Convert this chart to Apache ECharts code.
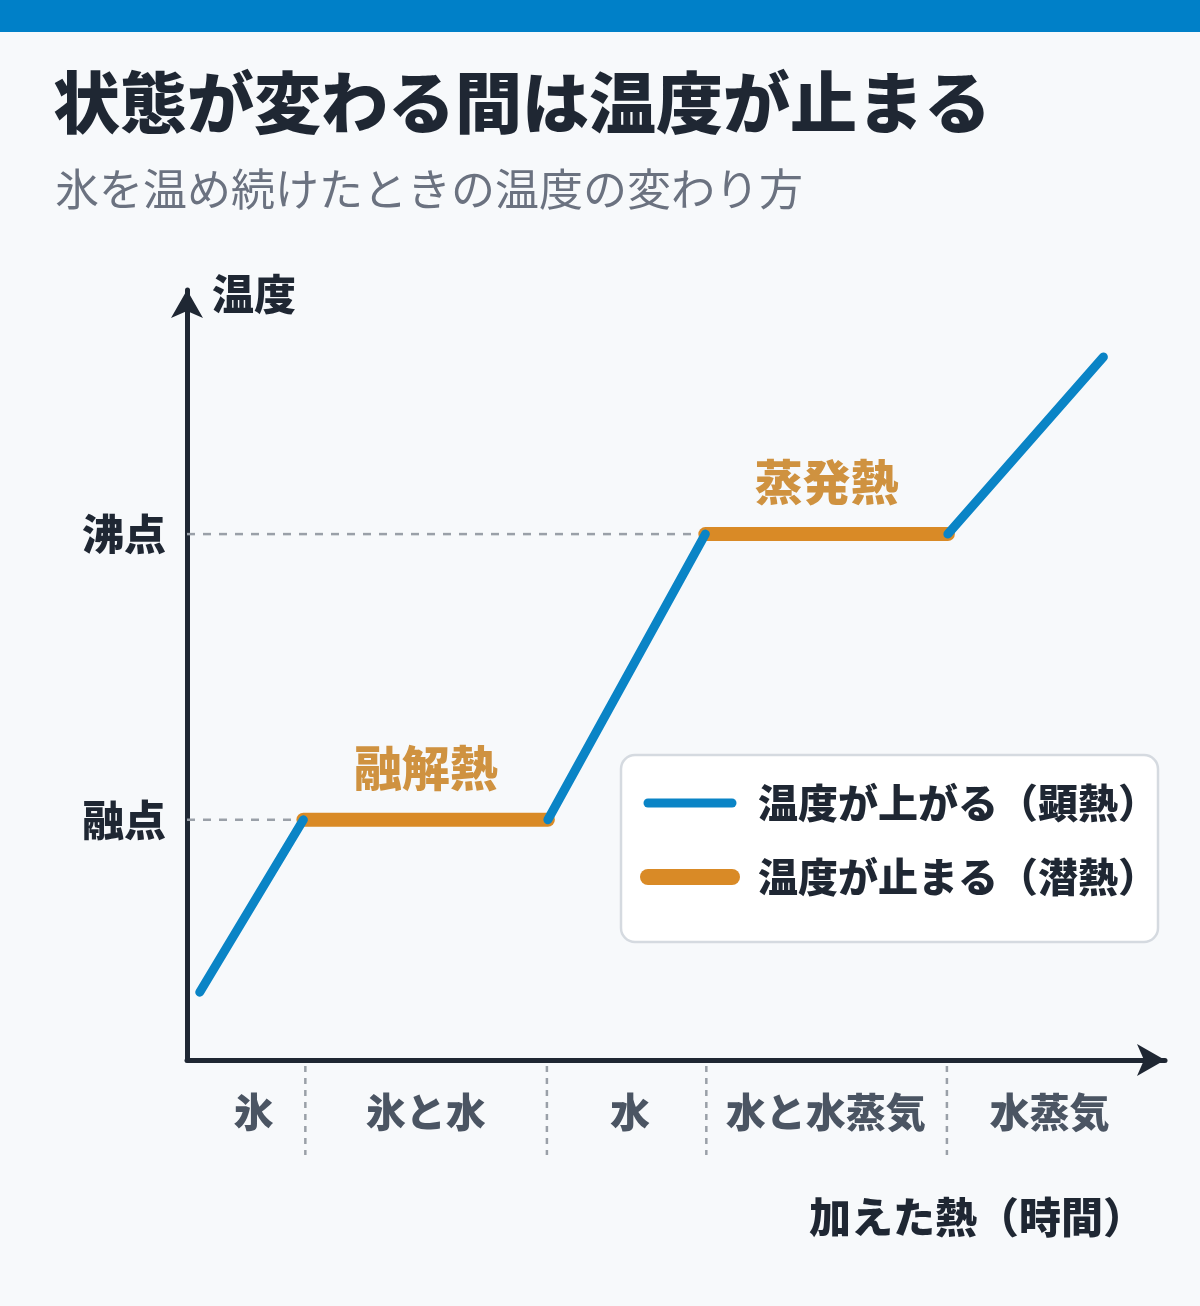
<!DOCTYPE html>
<html><head><meta charset="utf-8">
<script src="https://cdn.jsdelivr.net/npm/echarts@6/dist/echarts.min.js"></script>
<style>html,body{margin:0;padding:0;background:#f7f9fb}#c{width:1200px;height:1306px}</style>
</head><body><div id="c"></div>
<script>
const F='"Noto Sans CJK JP","Noto Sans",sans-serif';
const risePts=[[[1.3,8.8],[11.9,31.2]],[[36.9,31.2],[53,68.3]],[[77.8,68.3],[93.7,91.3]]];
const plateauPts=[[[11.9,31.2],[36.9,31.2]],[[53,68.3],[77.8,68.3]]];
const plateauLabels=['融解熱','蒸発熱'];
const tempLevels=[['融点',31.2],['沸点',68.3]];
const regionBounds=[12.1,36.8,53.1,77.7];
const regionNames=['氷','氷と水','水','水と水蒸気','水蒸気'];
const regionCenters=[6.8,24.4,45.3,65.3,88.2];
const blue='#0a84c6',orange='#d98a26',dark='#1f2733';
const chart=echarts.init(document.getElementById('c'));
const series=[];
tempLevels.forEach((t,i)=>series.push({type:'line',data:[[0,t[1]],[plateauPts[i][0][0],t[1]]],symbol:'none',silent:true,lineStyle:{color:'#9aa0a8',width:2.5,type:[8,8]},z:1}));
risePts.forEach(d=>series.push({type:'line',name:'温度が上がる（顕熱）',data:d,symbol:'none',lineStyle:{color:blue,width:9,cap:'round'},itemStyle:{color:blue},z:3}));
plateauPts.forEach((d,i)=>series.push({type:'line',name:'温度が止まる（潜熱）',data:d,symbol:'none',lineStyle:{color:orange,width:14,cap:'round'},itemStyle:{color:orange},z:2}));
series.push({type:'scatter',symbolSize:0,data:plateauPts.map((d,i)=>({value:[(d[0][0]+d[1][0])/2,d[0][1]],name:plateauLabels[i]})),
 label:{show:true,position:'top',distance:28,formatter:p=>p.name,color:'#c47812',fontSize:48,fontWeight:900,fontFamily:F}});
chart.setOption({
 backgroundColor:'#f7f9fb',animation:false,
 title:[{text:'状態が変わる間は温度が止まる',left:48,top:64,textStyle:{fontSize:67,fontWeight:900,color:dark,fontFamily:F}},
  {text:'氷を温め続けたときの温度の変わり方',left:50,top:162,textStyle:{fontSize:44,fontWeight:'normal',color:'#6b7280',fontFamily:F}}],
 grid:{left:187,right:35,top:290,bottom:246},
 xAxis:{type:'value',min:0,max:100,axisLine:{lineStyle:{color:dark,width:5},symbol:['none','arrow'],symbolSize:[24,28]},axisTick:{show:false},axisLabel:{show:false},splitLine:{show:false}},
 yAxis:{type:'value',min:0,max:100,axisLine:{show:true,lineStyle:{color:dark,width:5},symbol:['none','arrow'],symbolSize:[24,28]},axisTick:{show:false},axisLabel:{show:false},splitLine:{show:false}},
 series
});
const g=[];
tempLevels.forEach(t=>{const p=chart.convertToPixel({gridIndex:0},[0,t[1]]);g.push({type:'text',style:{text:t[0],x:166,y:p[1],align:'right',verticalAlign:'middle',fontSize:42,fontWeight:900,fill:dark,fontFamily:F}});});
regionBounds.forEach(b=>{const p=chart.convertToPixel({gridIndex:0},[b,0]);g.push({type:'line',shape:{x1:p[0],y1:1066,x2:p[0],y2:1155},style:{stroke:'#9aa0a8',lineWidth:2.5,lineDash:[6,6]}});});
regionNames.forEach((n,i)=>{const p=chart.convertToPixel({gridIndex:0},[regionCenters[i],0]);g.push({type:'text',style:{text:n,x:p[0],y:1112,align:'center',verticalAlign:'middle',fontSize:40,fontWeight:900,fill:'#4b5563',fontFamily:F}});});
g.push({type:'text',style:{text:'温度',x:212,y:294,verticalAlign:'middle',fontSize:42,fontWeight:900,fill:dark,fontFamily:F}});
g.push({type:'text',style:{text:'加えた熱（時間）',x:1145,y:1217,align:'right',verticalAlign:'middle',fontSize:42,fontWeight:900,fill:dark,fontFamily:F}});
g.push({type:'rect',z:10,shape:{x:621,y:755,width:537,height:187,r:14},style:{fill:'#ffffff',stroke:'#d5dae0',lineWidth:2.5}});
[[blue,803,'温度が上がる（顕熱）',9],[orange,877,'温度が止まる（潜熱）',16]].forEach(l=>{
 g.push({type:'line',z:11,shape:{x1:648,y1:l[1],x2:732,y2:l[1]},style:{stroke:l[0],lineWidth:l[3],lineCap:'round'}});
 g.push({type:'text',z:11,style:{text:l[2],x:758,y:l[1],verticalAlign:'middle',fontSize:40,fontWeight:900,fill:dark,fontFamily:F}});
});
g.push({type:'rect',shape:{x:0,y:0,width:1200,height:32},style:{fill:'#0080c8'}});
chart.setOption({graphic:g});
</script></body></html>
